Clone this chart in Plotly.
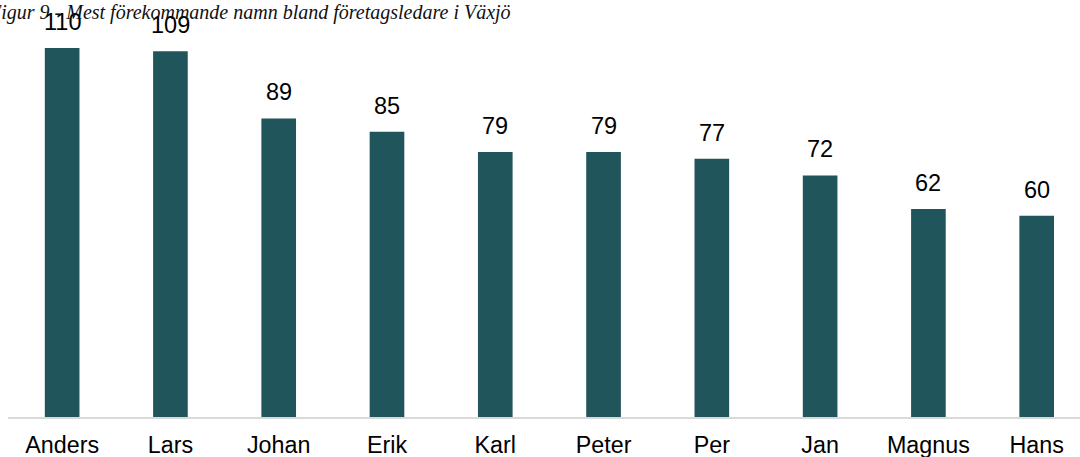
import plotly.graph_objects as go

names = ["Anders", "Lars", "Johan", "Erik", "Karl", "Peter", "Per", "Jan", "Magnus", "Hans"]
counts = [110, 109, 89, 85, 79, 79, 77, 72, 62, 60]
title_text = "Figur 9 - Mest förekommande namn bland företagsledare i Växjö"

fig = go.Figure()
fig.add_trace(go.Bar(
    x=names, y=counts,
    marker=dict(color="#21555C", line=dict(width=0)),
    hoverinfo="x+y",
))

for n, v in zip(names, counts):
    fig.add_annotation(x=n, y=v, text=str(v), showarrow=False,
                       yanchor="bottom", yshift=11,
                       font=dict(family="Liberation Sans, Arial", size=23.5, color="#000000"))

fig.add_annotation(xref="paper", yref="paper", x=0, y=1, xanchor="left", yanchor="top",
                   xshift=-22, yshift=1, showarrow=False,
                   text="<i>" + title_text + "</i>",
                   font=dict(family="Liberation Serif", size=20, color="#111111"))

fig.update_layout(
    width=1080, height=457,
    margin=dict(l=8, r=0, t=0, b=40, autoexpand=False),
    paper_bgcolor="white", plot_bgcolor="white",
    bargap=0.68,
    showlegend=False,
    xaxis=dict(range=[-0.5, 9.4], showline=True, linecolor="#D9D9D9", linewidth=1.5,
               showgrid=False, ticks="", ticklabelstandoff=6,
               tickfont=dict(family="Liberation Sans, Arial", size=23.3, color="#000000")),
    yaxis=dict(range=[0, 124.3], visible=False, showgrid=False, zeroline=False),
)

fig.write_html("out.html", config={"displayModeBar": False},
               post_script="document.body.style.margin='0';document.body.style.overflow='hidden';")
